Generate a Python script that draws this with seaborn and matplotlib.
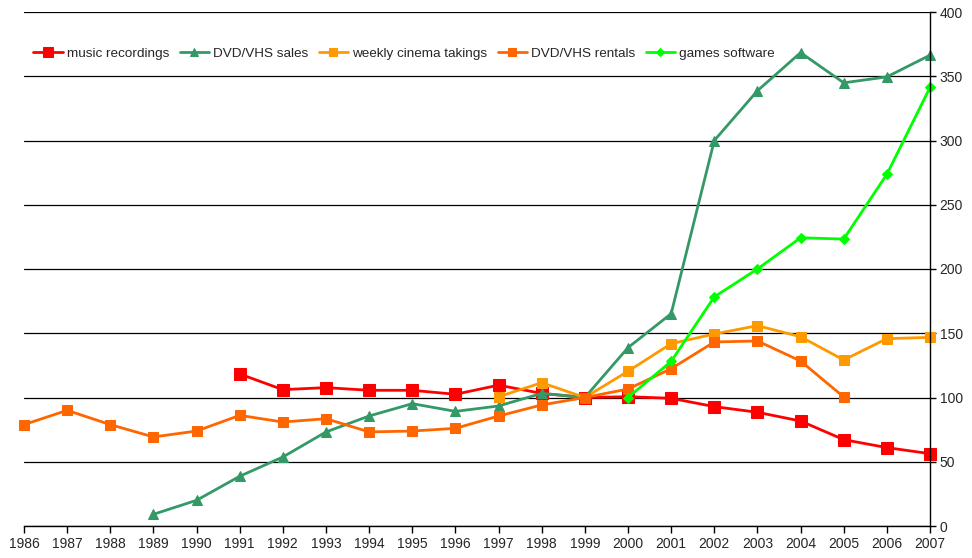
import matplotlib
matplotlib.use("Agg")
import matplotlib.pyplot as plt
import seaborn as sns
import pandas as pd

sns.set_theme(style="white")
plt.rcParams['font.family'] = ['Liberation Sans', 'DejaVu Sans']

years_music = list(range(1991, 2008))
music = [118.3, 106.1, 107.7, 105.6, 105.6, 102.5, 109.6, 103.2, 100, 100.6, 99.4, 92.9, 88.5, 81.7, 67.2, 61.0, 56.3]

years_sales = list(range(1989, 2008))
dvd_sales = [9.1, 20.0, 38.7, 53.7, 73.2, 85.6, 95.2, 89.2, 93.4, 103.2, 100, 138.8, 165.2, 300.0, 338.7, 368.4, 344.9, 349.5, 366.4]

years_cinema = list(range(1997, 2008))
cinema = [100.6, 111.5, 100, 120.4, 141.9, 149.4, 155.9, 147.3, 129.2, 145.8, 146.8]

years_rentals = list(range(1986, 2006))
rentals = [78.9, 90.0, 78.9, 69.3, 73.9, 86.1, 80.9, 83.5, 73.2, 73.9, 76.0, 85.6, 94.2, 100, 106.6, 122.4, 143.2, 144.0, 128.4, 100.4]

years_games = list(range(2000, 2008))
games = [100, 128.1, 178.3, 200.0, 224.3, 223.3, 273.7, 341.3]

series = [
    ("music recordings", years_music, music, "#FF0000", "s", 9),
    ("DVD/VHS sales", years_sales, dvd_sales, "#339966", "^", 7),
    ("weekly cinema takings", years_cinema, cinema, "#FF9900", "s", 7.5),
    ("DVD/VHS rentals", years_rentals, rentals, "#FF6600", "s", 7.5),
    ("games software", years_games, games, "#00FF00", "D", 5),
]

fig = plt.figure(figsize=(9.72, 5.58), dpi=100)
ax = fig.add_axes([24/972, 32/558, 906/972, 514/558])

for name, xs, ys, col, mk, ms in series:
    df = pd.DataFrame({"year": xs, "value": ys})
    sns.lineplot(data=df, x="year", y="value", ax=ax, color=col, marker=mk,
                 markersize=ms, markeredgecolor=col, linewidth=2.0, label=name,
                 clip_on=False)

ax.set_xlim(1986, 2007)
ax.set_ylim(0, 400)
ax.set_xticks(list(range(1986, 2008)))
ax.set_yticks(list(range(0, 401, 50)))
ax.set_xlabel("")
ax.set_ylabel("")
ax.yaxis.tick_right()
ax.grid(axis="y", color="black", linewidth=0.9)
ax.set_axisbelow(True)
for s in ["top", "left"]:
    ax.spines[s].set_visible(False)
for s in ["bottom", "right"]:
    ax.spines[s].set_visible(True)
    ax.spines[s].set_color("black")
    ax.spines[s].set_linewidth(1.0)
ax.tick_params(axis="x", direction="out", length=5, width=1, color="black",
               labelsize=10, pad=3, bottom=True)
ax.tick_params(axis="y", direction="out", length=4, width=1, color="black",
               labelsize=10, pad=3, right=True, left=False)

leg = ax.legend(loc="upper left", bbox_to_anchor=(0.0, 0.95), ncol=5,
                frameon=False, fontsize=9.7, handlelength=2.2, markerscale=0.8,
                handletextpad=0.3, columnspacing=0.75, borderaxespad=0.3)

fig.savefig("out.png", dpi=100)
